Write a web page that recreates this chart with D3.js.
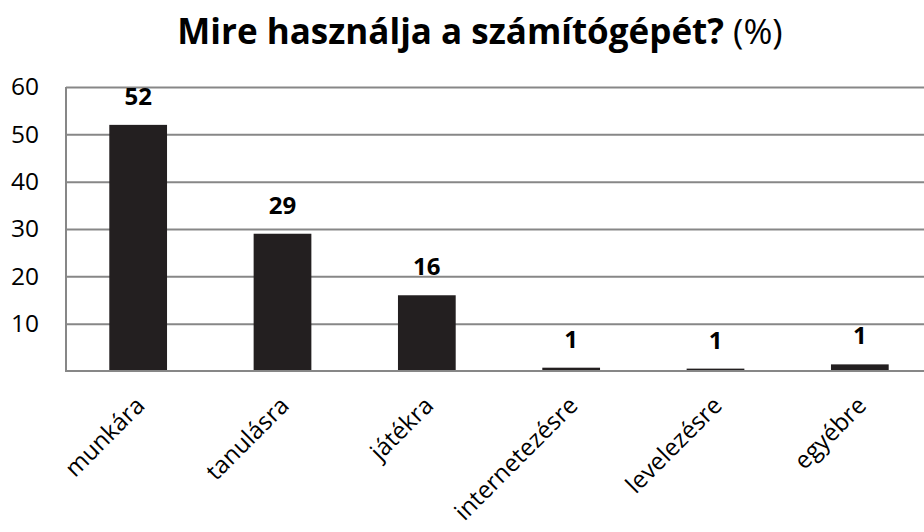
<!DOCTYPE html>
<html>
<head>
<meta charset="utf-8">
<script src="https://cdn.jsdelivr.net/npm/d3@7"></script>
<style>
  body { margin: 0; background: #fff; }
  text { font-family: "Open Sans", sans-serif; fill: #000; }
</style>
</head>
<body>
<script>
// chart data
var categories = ["munkára", "tanulásra", "játékra", "internetezésre", "levelezésre", "egyébre"];
var values = [52, 29, 16, 0.7, 0.5, 1.4];
var yTicks = [10, 20, 30, 40, 50, 60];

var w = 924, h = 532;
var margin = {left: 66, top: 87, right: -8, bottom: 161};

var svg = d3.select("body")
	.append("svg")
	.attr("width", w)
	.attr("height", h);

var x = d3.scaleBand()
	.domain(categories)
	.range([margin.left, w - margin.right])
	.paddingInner(0.6)
	.paddingOuter(0.3);

var y = d3.scaleLinear()
	.domain([0, 60])
	.range([h - margin.bottom, margin.top]);

// gridlines + y labels
var yAxis = svg.append("g")
	.attr("transform", "translate(" + margin.left + ",0)")
	.call(d3.axisLeft(y)
		.tickValues(yTicks)
		.tickSize(-(w - margin.right - margin.left))
		.tickPadding(27));

yAxis.select(".domain").remove();
yAxis.selectAll(".tick line")
	.attr("stroke", "#878787")
	.attr("stroke-width", 2);
yAxis.selectAll(".tick text")
	.attr("font-size", "24.5px")
	.attr("font-family", "Open Sans, sans-serif")
	.attr("fill", "#000");

// left axis line
svg.append("line")
	.attr("x1", margin.left).attr("x2", margin.left)
	.attr("y1", y(60)).attr("y2", y(0))
	.attr("stroke", "#878787")
	.attr("stroke-width", 2);

// bars
svg.selectAll("rect.bar")
	.data(values)
	.enter()
	.append("rect")
	.attr("class", "bar")
	.attr("x", function(d, i) { return x(categories[i]); })
	.attr("y", function(d) { return y(d); })
	.attr("width", x.bandwidth())
	.attr("height", function(d) { return y(0) - y(d); })
	.attr("fill", "#231f20");

// bottom axis line
svg.append("line")
	.attr("x1", margin.left - 1).attr("x2", w)
	.attr("y1", y(0)).attr("y2", y(0))
	.attr("stroke", "#878787")
	.attr("stroke-width", 2);

// value labels
svg.selectAll("text.val")
	.data(values)
	.enter()
	.append("text")
	.attr("class", "val")
	.attr("x", function(d, i) { return x(categories[i]) + x.bandwidth() / 2; })
	.attr("y", function(d) { return y(d) - 20; })
	.attr("text-anchor", "middle")
	.attr("font-size", "24px")
	.attr("font-weight", "bold")
	.text(function(d) { return d3.format(".0f")(d); });

// category labels
var xAxis = svg.append("g")
	.attr("transform", "translate(0," + y(0) + ")")
	.call(d3.axisBottom(x).tickSize(0).tickPadding(0));

xAxis.select(".domain").remove();
xAxis.selectAll(".tick text")
	.attr("font-size", "24px")
	.attr("font-family", "Open Sans, sans-serif")
	.attr("fill", "#000")
	.attr("text-anchor", "end")
	.attr("dy", 0)
	.attr("transform", "translate(8,36) rotate(-45)");

// title
var title = svg.append("text")
	.attr("x", 480)
	.attr("y", 44)
	.attr("text-anchor", "middle")
	.attr("font-size", "35px");
title.append("tspan")
	.attr("font-weight", "bold")
	.text("Mire használja a számítógépét?");
title.append("tspan")
	.text(" (%)");
</script>
</body>
</html>
